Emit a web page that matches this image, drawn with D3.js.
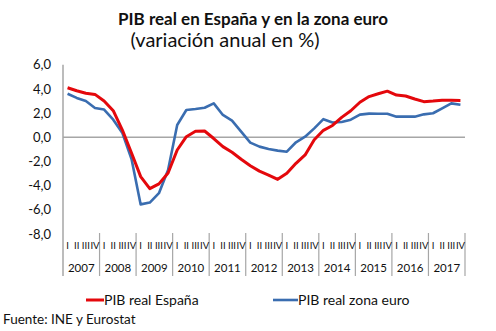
<!DOCTYPE html>
<html>
<head>
<meta charset="utf-8">
<script src="https://cdn.jsdelivr.net/npm/d3@7"></script>
<style>
  body { margin: 0; background: #fff; }
  svg { font-family: Lato, "Open Sans", sans-serif; }
</style>
</head>
<body>
<div id="chart"></div>
<script>
// annual % change, quarterly 2007 Q1 .. 2017 Q4
var years = ["2007", "2008", "2009", "2010", "2011", "2012", "2013", "2014", "2015", "2016", "2017"];
var quarterLabels = ["I", "II", "III", "IV"];
var spain = [4.1, 3.85, 3.65, 3.55, 3.0, 2.2, 0.6, -1.3,
  -3.25, -4.25, -3.85, -2.95, -1.05, 0.05, 0.5, 0.52,
  -0.1, -0.77, -1.24, -1.82, -2.35, -2.8, -3.12, -3.48,
  -2.98, -2.15, -1.46, -0.2, 0.58, 0.98, 1.65, 2.2,
  2.9, 3.37, 3.6, 3.82, 3.5, 3.42, 3.17, 2.95,
  3.0, 3.07, 3.06, 3.05];
var euro = [3.6, 3.26, 3.0, 2.43, 2.3, 1.46, 0.35, -1.8,
  -5.55, -5.4, -4.62, -2.7, 1.02, 2.26, 2.34, 2.45,
  2.81, 1.85, 1.38, 0.47, -0.44, -0.77, -0.97, -1.1,
  -1.19, -0.41, 0.05, 0.74, 1.5, 1.23, 1.27, 1.46,
  1.88, 1.96, 1.95, 1.95, 1.71, 1.71, 1.71, 1.9,
  1.99, 2.4, 2.81, 2.7];
var yTicks = [6, 4, 2, 0, -2, -4, -6, -8];
var seriesNames = ["PIB real España", "PIB real zona euro"];
var colors = ["#e4080c", "#3a6db0"];

var width = 496, height = 331;
var plot = {left: 63, right: 465, top: 64.8, bottom: 234};

var quarters = [];
years.forEach(function(yr) {
  quarterLabels.forEach(function(q) { quarters.push(yr + "-" + q); });
});

var svg = d3.select("#chart").append("svg")
  .attr("width", width)
  .attr("height", height);

var x = d3.scaleBand().domain(quarters).range([plot.left, plot.right]);
var xYear = d3.scaleBand().domain(years).range([plot.left, plot.right]);
var y = d3.scaleLinear().domain([-8, 6]).range([plot.bottom, plot.top]);

// titles
svg.append("text")
  .attr("x", 253).attr("y", 24.5)
  .attr("text-anchor", "middle")
  .attr("font-size", 17).attr("font-weight", "bold")
  .attr("fill", "#111")
  .text("PIB real en España y en la zona euro");
svg.append("text")
  .attr("x", 225).attr("y", 47)
  .attr("text-anchor", "middle")
  .attr("font-size", 20)
  .attr("fill", "#111")
  .text("(variación anual en %)");

// y axis labels
var fmt = function(d) { return d.toFixed(1).replace(".", ","); };
svg.append("g").selectAll("text")
  .data(yTicks)
  .join("text")
  .attr("x", 51)
  .attr("y", function(d) { return y(d); })
  .attr("dy", "0.35em")
  .attr("text-anchor", "end")
  .attr("font-size", 13)
  .attr("fill", "#111")
  .text(fmt);

var grey = "#a6a6a6";
// vertical axis line
svg.append("line")
  .attr("x1", plot.left).attr("x2", plot.left)
  .attr("y1", plot.top).attr("y2", 276)
  .attr("stroke", grey).attr("stroke-width", 1.5);

// zero line
svg.append("line")
  .attr("x1", plot.left).attr("x2", plot.right)
  .attr("y1", y(0)).attr("y2", y(0))
  .attr("stroke", grey).attr("stroke-width", 1.5);

// year separators
svg.append("g").selectAll("line")
  .data(years)
  .join("line")
  .attr("x1", function(d) { return xYear(d) + xYear.bandwidth(); })
  .attr("x2", function(d) { return xYear(d) + xYear.bandwidth(); })
  .attr("y1", 233).attr("y2", 276)
  .attr("stroke", grey).attr("stroke-width", 1.2);

// quarter labels
svg.append("g").selectAll("text")
  .data(quarters)
  .join("text")
  .attr("x", function(d) { return x(d) + x.bandwidth() / 2; })
  .attr("y", 249)
  .attr("text-anchor", "middle")
  .attr("font-size", 9.5)
  .attr("fill", "#111")
  .text(function(d) { return d.split("-")[1]; });

// year labels
svg.append("g").selectAll("text")
  .data(years)
  .join("text")
  .attr("x", function(d) { return xYear(d) + xYear.bandwidth() / 2; })
  .attr("y", 272)
  .attr("text-anchor", "middle")
  .attr("font-size", 11.5)
  .attr("fill", "#111")
  .text(function(d) { return d; });

// lines
var line = d3.line()
  .x(function(d, i) { return x(quarters[i]) + x.bandwidth() / 2; })
  .y(function(d) { return y(d); });

svg.append("path")
  .datum(euro)
  .attr("fill", "none")
  .attr("stroke", colors[1])
  .attr("stroke-width", 2.6)
  .attr("stroke-linejoin", "round")
  .attr("d", line);

svg.append("path")
  .datum(spain)
  .attr("fill", "none")
  .attr("stroke", colors[0])
  .attr("stroke-width", 3)
  .attr("stroke-linejoin", "round")
  .attr("d", line);

// legend
var legendX = [86, 273];
var lg = svg.append("g").selectAll("g")
  .data(seriesNames)
  .join("g")
  .attr("transform", function(d, i) { return "translate(" + legendX[i] + ",300)"; });
lg.append("line")
  .attr("x1", 0).attr("x2", function(d, i) { return i === 0 ? 18 : 25; })
  .attr("y1", 0).attr("y2", 0)
  .attr("stroke", function(d, i) { return colors[i]; })
  .attr("stroke-width", function(d, i) { return i === 0 ? 3 : 2.6; });
lg.append("text")
  .attr("x", function(d, i) { return i === 0 ? 18 : 25; })
  .attr("dy", "0.35em")
  .attr("font-size", 14)
  .attr("fill", "#111")
  .text(function(d) { return d; });

// source
svg.append("text")
  .attr("x", 3).attr("y", 324)
  .attr("font-size", 13.5)
  .attr("fill", "#111")
  .text("Fuente: INE y Eurostat");
</script>
</body>
</html>
